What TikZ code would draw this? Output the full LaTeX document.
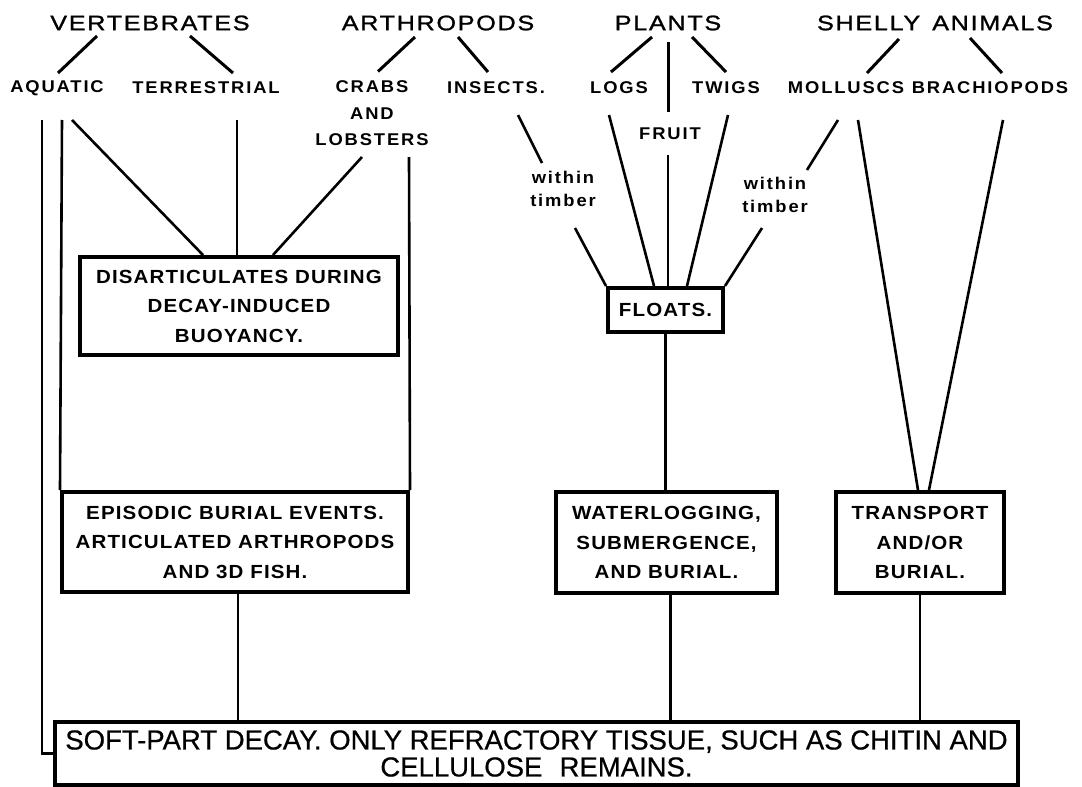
\documentclass[tikz,border=0pt]{standalone}
\usepackage{fontspec}
\setmainfont{Liberation Sans}
\newfontfamily\headfont[LetterSpace=8,FakeStretch=1.2,FakeBold=1.2]{Liberation Sans}
\newfontfamily\labfont[LetterSpace=11,FakeStretch=1.08]{Liberation Sans}
\newfontfamily\boxfont[LetterSpace=6,FakeStretch=1.08]{Liberation Sans}
\newfontfamily\basefont[FakeBold=0.6]{Liberation Sans}
\usetikzlibrary{calc}
\tikzset{
  head/.style={font=\headfont\fontsize{21}{27}\selectfont, inner sep=0pt},
  lab/.style={font=\labfont\bfseries\fontsize{17}{26.5}\selectfont, inner sep=0pt, align=center},
  tim/.style={font=\labfont\bfseries\fontsize{17}{23}\selectfont, inner sep=0pt, align=center},
  stage/.style={draw, line width=4pt, fill=white, inner sep=0pt, align=center,
    font=\boxfont\bfseries\fontsize{19}{29.5}\selectfont},
  link/.style={line width=2.6pt},
  hlink/.style={line width=3pt},
}
\begin{document}
\begin{tikzpicture}[x=1pt,y=-1pt]
\useasboundingbox (0,0) rectangle (1082,787);
% headings
\node[head] (vert) at (150,23) {VERTEBRATES};
\node[head] (arth) at (438,23) {ARTHROPODS};
\node[head] (plants) at (668,23) {PLANTS};
\node[head] (shelly) at (935,23) {SHELLY\hspace{12pt}ANIMALS};
% second row
\node[lab] (aquatic) at (57,88) {AQUATIC};
\node[lab] (terr) at (206,88) {TERRESTRIAL};
\node[lab] (crabs) at (372,113.5) {CRABS\\AND\\LOBSTERS};
\node[lab] (insects) at (496,88) {INSECTS.};
\node[lab] (logs) at (619,88) {LOGS};
\node[lab] (fruit) at (670,134) {FRUIT};
\node[lab] (twigs) at (726,88) {TWIGS};
\node[lab] (moll) at (846,88) {MOLLUSCS};
\node[lab] (brach) at (990,88) {BRACHIOPODS};
\node[tim] (within1) at (563,189) {within\\timber};
\node[tim] (within2) at (775,195) {within\\timber};
% boxes
\node[stage, minimum width=318pt, minimum height=98pt] (disart) at (239,306)
  {DISARTICULATES DURING\\DECAY-INDUCED\\BUOYANCY.};
\node[stage, minimum width=115pt, minimum height=44pt] (floats) at (665.5,310) {FLOATS.};
\node[stage, minimum width=346pt, minimum height=100pt] (episodic) at (235,542)
  {EPISODIC BURIAL EVENTS.\\ARTICULATED ARTHROPODS\\AND 3D FISH.};
\node[stage, minimum width=221pt, minimum height=101pt] (waterlog) at (666.5,542.5)
  {WATERLOGGING,\\SUBMERGENCE,\\AND BURIAL.};
\node[stage, minimum width=168pt, minimum height=101pt] (transport) at (920,542.5)
  {TRANSPORT\\AND/OR\\BURIAL.};
\node[stage, minimum width=963pt, minimum height=63pt, line width=3.5pt,
  font=\basefont\fontsize{27.5}{27}\selectfont] (bottom) at (536.5,753.5)
  {SOFT-PART DECAY. ONLY REFRACTORY TISSUE, SUCH AS CHITIN AND\\CELLULOSE\hspace{0.35em} REMAINS.};
% heading connectors
\draw[hlink] ($(vert)+(-53,13)$) -- ($(aquatic)+(1,-15)$);
\draw[hlink] ($(vert)+(40,13)$) -- ($(terr)+(27,-15)$);
\draw[hlink] ($(arth)+(-23,14)$) -- ($(crabs)+(6,-42)$);
\draw[hlink] ($(arth)+(20,14)$) -- ($(insects)+(-8,-16)$);
\draw[hlink] ($(plants)+(-16,14)$) -- ($(logs)+(-8,-16)$);
\draw[hlink] ($(plants)+(0,19)$) -- ($(fruit)+(-2,-22)$);
\draw[hlink] ($(plants)+(24,14)$) -- ($(twigs)+(0,-16)$);
\draw[hlink] ($(shelly)+(-36,16)$) -- ($(moll)+(21,-15)$);
\draw[hlink] ($(shelly)+(35,15)$) -- ($(brach)+(12,-15)$);
% long connectors
\coordinate (aq1) at ($(aquatic)+(-15,32)$);
\draw[link] (aq1) |- (bottom.west);
\draw[link] ($(aquatic)+(5,32)$) -- (episodic.north west);
\draw[link] ($(aquatic)+(15,32)$) -- ($(disart.north)+(-36,0)$);
\draw[link] ($(terr)+(31,32)$) -- ($(disart.north)+(-2,0)$);
\draw[link] ($(crabs)+(-10,43.5)$) -- ($(disart.north)+(34,0)$);
\draw[link] ($(crabs)+(37,43.5)$) -- (episodic.north east);
\draw[link] ($(insects)+(22,27)$) -- ($(within1)+(-21,-26)$);
\draw[link] ($(within1)+(12,39)$) -- (floats.north west);
\draw[link] ($(logs)+(-10,27)$) -- ($(floats.north)+(-11.5,0)$);
\draw[link] ($(fruit)+(-2,21)$) -- ($(floats.north)+(2.5,0)$);
\draw[link] ($(twigs)+(2,27)$) -- ($(floats.north)+(21.5,0)$);
\draw[link] ($(moll)+(-8,32)$) -- ($(within2)+(32,-25)$);
\draw[link] ($(within2)+(-13,33)$) -- (floats.north east);
\draw[link] ($(moll)+(12,32)$) -- ($(transport.north)+(-2,0)$);
\draw[link] ($(brach)+(13,32)$) -- ($(transport.north)+(9,0)$);
\draw[link] (floats.south) -- (floats.south |- waterlog.north);
\coordinate (edown) at ($(episodic.south)+(3,0)$);
\draw[link] (edown) -- (edown |- bottom.north);
\coordinate (wdown) at ($(waterlog.south)+(4,0)$);
\draw[link] (wdown) -- (wdown |- bottom.north);
\draw[link] (transport.south) -- (transport.south |- bottom.north);
\end{tikzpicture}
\end{document}
